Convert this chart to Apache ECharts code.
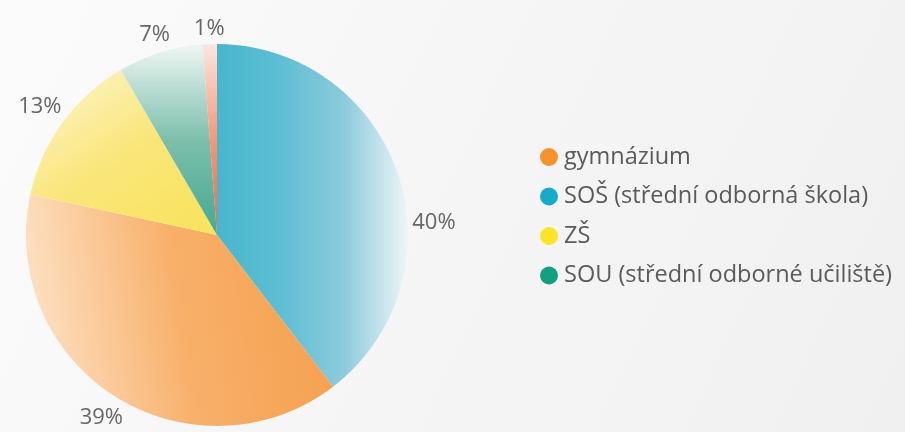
<!DOCTYPE html>
<html>
<head>
<meta charset="utf-8">
<script src="https://cdn.jsdelivr.net/npm/echarts@6/dist/echarts.min.js"></script>
<style>
  html, body { margin: 0; padding: 0; }
  #chart { width: 905px; height: 432px; }
</style>
</head>
<body>
<div id="chart"></div>
<script>
// slices, clockwise from the top
const names = ['SOŠ (střední odborná škola)', 'gymnázium', 'ZŠ', 'SOU (střední odborné učiliště)', 'jiné'];
const values = [39.6, 38.8, 13.2, 7.2, 1.2];
const legendNames = ['gymnázium', 'SOŠ (střední odborná škola)', 'ZŠ', 'SOU (střední odborné učiliště)'];

const solid = {
  'gymnázium': '#f7932f',
  'SOŠ (střední odborná škola)': '#17aac9',
  'ZŠ': '#fce428',
  'SOU (střední odborné učiliště)': '#12a080'
};

const CX = 217, CY = 235, R = 191;

function grad(x, y, x2, y2, stops) {
  return new echarts.graphic.LinearGradient(x, y, x2, y2,
    stops.map((c, i) => ({ offset: i / (stops.length - 1), color: c })));
}

const fills = [
  grad(0, 0, 1, 0, ['#48b6cd', '#5ebed3', '#8ccbdc', '#eef6f8']),
  grad(1, 0.4, 0, 0.6, ['#f5a04e', '#f8b06a', '#fde3c8']),
  grad(0.8, 1, 0.2, 0, ['#f9e35f', '#fae67a', '#fcf4c6']),
  grad(0, 1, 0, 0, ['#43aa91', '#7cbfab', '#eef6f3']),
  grad(0, 1, 0, 0, ['#f0694a', '#f59678', '#fde6de'])
];

// mid angle of each slice, clockwise from the top
const total = values.reduce((a, b) => a + b, 0);
const midAngles = [];
values.reduce((acc, v) => { midAngles.push((acc + v / 2) / total * Math.PI * 2); return acc + v; }, 0);

// labels sit just outside the rim, their box pushed out along the slice direction
function placeLabel(p) {
  let a = midAngles[p.dataIndex];
  if (p.dataIndex === 0) a += 0.27; // the 40% label sits lower in the original
  const dx = Math.sin(a), dy = -Math.cos(a);
  const w = p.labelRect.width, h = p.labelRect.height;
  const d = R + 4 + Math.abs(dx) * w / 2 + Math.abs(dy) * h / 2;
  return { x: CX + dx * d, y: CY + dy * d, align: 'center', verticalAlign: 'middle' };
}

const chart = echarts.init(document.getElementById('chart'));

chart.setOption({
  backgroundColor: new echarts.graphic.LinearGradient(0, 0, 1, 1, [
    { offset: 0, color: '#fbfbfb' },
    { offset: 1, color: '#f0f0f1' }
  ]),
  legend: {
    orient: 'vertical',
    left: 535,
    top: 140,
    icon: 'circle',
    itemWidth: 18,
    itemHeight: 18,
    itemGap: 15.5,
    textStyle: {
      fontFamily: 'Open Sans', fontSize: 23.5, color: '#5a5a5a',
      lineHeight: 24, padding: [0, 0, 0, 1]
    },
    data: legendNames.map(n => ({ name: n, itemStyle: { color: solid[n] } }))
  },
  series: [{
    type: 'pie',
    center: [CX, CY],
    radius: R,
    startAngle: 90,
    percentPrecision: 0,
    avoidLabelOverlap: false,
    label: {
      position: 'outside',
      formatter: '{d}%',
      fontFamily: 'Open Sans',
      fontSize: 22,
      color: '#666'
    },
    labelLine: { show: false },
    labelLayout: placeLabel,
    emphasis: { disabled: true },
    data: names.map((n, i) => ({
      name: n,
      value: values[i],
      itemStyle: { color: fills[i] }
    }))
  }]
});
</script>
</body>
</html>
